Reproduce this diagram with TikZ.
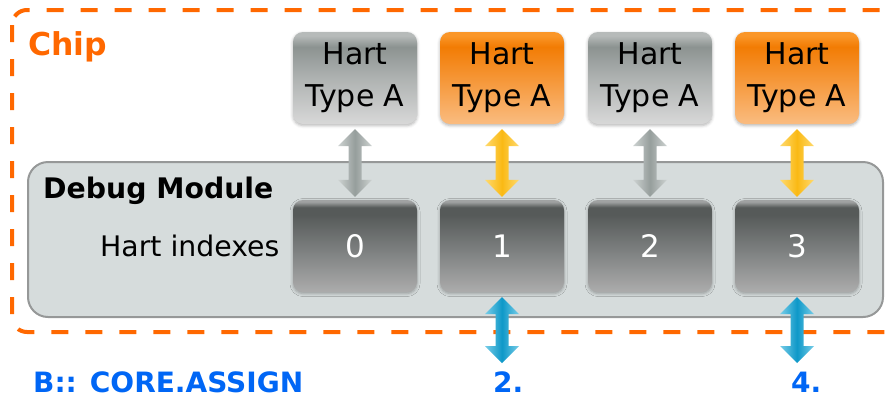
\documentclass[tikz,border=0pt]{standalone}
\usepackage{fontspec}
\setmainfont{DejaVu Sans}
\usetikzlibrary{calc,shadows.blur}

% palette
\definecolor{chiporange}{RGB}{255,104,0}
\definecolor{asgblue}{RGB}{0,102,245}
\definecolor{dmfill}{RGB}{214,220,220}
\definecolor{dmline}{RGB}{150,152,152}
% hart (gray)
\definecolor{hgA}{RGB}{182,186,185}
\definecolor{hgB}{RGB}{140,147,145}
\definecolor{hgC}{RGB}{216,216,216}
% hart (orange)
\definecolor{hoA}{RGB}{250,150,40}
\definecolor{hoB}{RGB}{242,124,4}
\definecolor{hoC}{RGB}{250,188,128}
% index boxes
\definecolor{ixA}{RGB}{160,162,162}
\definecolor{ixB}{RGB}{86,90,89}
\definecolor{ixM}{RGB}{124,127,127}
\definecolor{ixC}{RGB}{172,172,172}
% arrows
\definecolor{gaEdge}{RGB}{205,210,209}
\definecolor{gaMid}{RGB}{150,158,156}
\definecolor{yaEdge}{RGB}{255,218,110}
\definecolor{yaMid}{RGB}{250,185,20}
\definecolor{baEdge}{RGB}{120,205,232}
\definecolor{baMid}{RGB}{14,152,200}

\pgfdeclareverticalshading{hartgray}{100bp}{color(0bp)=(hgC); color(25bp)=(hgC); color(50bp)=(hgB!55!hgC); color(67bp)=(hgB); color(73bp)=(hgA); color(75bp)=(hgA); color(100bp)=(hgA)}
\pgfdeclareverticalshading{hartorange}{100bp}{color(0bp)=(hoC); color(25bp)=(hoC); color(50bp)=(hoB!60!hoC); color(67bp)=(hoB); color(73bp)=(hoA); color(75bp)=(hoA); color(100bp)=(hoA)}
\pgfdeclareverticalshading{idxshade}{100bp}{color(0bp)=(ixC); color(25bp)=(ixC); color(48bp)=(ixM); color(67bp)=(ixB); color(71bp)=(ixB); color(74bp)=(ixA); color(75bp)=(ixA); color(100bp)=(ixA)}

% double-headed block arrow between two points
\newcommand\blockarrow[3]{%
  \shade[#1] ($#2$) -- ($#2+(17,17)$) -- ($#2+(6.5,17)$) -- ($#3+(6.5,-17)$)
    -- ($#3+(17,-17)$) -- ($#3$) -- ($#3+(-17,-17)$) -- ($#3+(-6.5,-17)$)
    -- ($#2+(-6.5,17)$) -- ($#2+(-17,17)$) -- cycle;}

\begin{document}
\begin{tikzpicture}[x=1pt,y=-1pt,
  softshadow/.style={blur shadow={shadow xshift=0pt, shadow yshift=-1.5pt,
    shadow blur radius=3pt, shadow opacity=30}},
  hartbox/.style={rectangle, rounded corners=10pt, minimum width=124pt,
    minimum height=92pt, inner sep=0pt, align=center, text=black,
    font=\fontsize{30}{42}\selectfont, softshadow, shade},
  idxbox/.style={rectangle, rounded corners=10pt, minimum width=124pt,
    minimum height=92pt, inner sep=0pt, text=white,
    font=\fontsize{31}{36}\selectfont, softshadow, shade, shading=idxshade},
  chipline/.style={rounded corners=15pt, draw=chiporange,
    line width=4pt, dash pattern=on 17pt off 17pt},
  dmbox/.style={rectangle, rounded corners=20pt, draw=dmline, fill=dmfill,
    line width=2pt, minimum width=855pt, minimum height=155pt},
  lbl/.style={anchor=base west, inner sep=0pt},
  grayarrow/.style={left color=gaEdge, right color=gaEdge, middle color=gaMid},
  yellowarrow/.style={left color=yaEdge, right color=yaEdge, middle color=yaMid},
  bluearrow/.style={left color=baEdge, right color=baEdge, middle color=baMid}]

\useasboundingbox (0,0) rectangle (894,397);

% chip outline (runs past the right edge) and debug module
\draw[chipline] (12,10) rectangle (906,332);
\node[dmbox] (dm) at (455.5,239.5) {};

% harts
\node[hartbox, shading=hartgray]   (h0) at (355,78) {Hart\\Type A};
\node[hartbox, shading=hartorange] (h1) at (502,78) {Hart\\Type A};
\node[hartbox, shading=hartgray]   (h2) at (650,78) {Hart\\Type A};
\node[hartbox, shading=hartorange] (h3) at (797,78) {Hart\\Type A};

% hart index slots
\node[idxbox] (i0) at (355,246) {0};
\node[idxbox] (i1) at (502,246) {1};
\node[idxbox] (i2) at (650,246) {2};
\node[idxbox] (i3) at (797,246) {3};

% hart <-> index links
\blockarrow{grayarrow}{(h0.south)+(0,5)}{(i0.north)+(0,-3)}
\blockarrow{yellowarrow}{(h1.south)+(0,5)}{(i1.north)+(0,-3)}
\blockarrow{grayarrow}{(h2.south)+(0,5)}{(i2.north)+(0,-3)}
\blockarrow{yellowarrow}{(h3.south)+(0,5)}{(i3.north)+(0,-3)}

% external links
\coordinate (o1) at (502,363);
\coordinate (o3) at (797,363);
\blockarrow{bluearrow}{(i1.south)+(0,5)}{(o1)}
\blockarrow{bluearrow}{(i3.south)+(0,5)}{(o3)}

% labels
\node[lbl, text=chiporange, font=\bfseries\fontsize{31.5}{36}\selectfont] (chiplbl) at (28,55) {Chip};
\node[lbl, font=\bfseries\fontsize{28.3}{32}\selectfont] (dmlbl) at (43,198) {Debug Module};
\node[lbl, font=\fontsize{28.3}{34}\selectfont] (hilbl) at (100,256) {Hart indexes};
\node[lbl, text=asgblue, font=\bfseries\fontsize{28}{32}\selectfont] (asg) at (33,392) {B:: CORE.ASSIGN};
\node[lbl, text=asgblue, font=\bfseries\fontsize{28}{32}\selectfont] (n2) at (493,392) {2.};
\node[lbl, text=asgblue, font=\bfseries\fontsize{28}{32}\selectfont] (n4) at (791,392) {4.};
\end{tikzpicture}
\end{document}
